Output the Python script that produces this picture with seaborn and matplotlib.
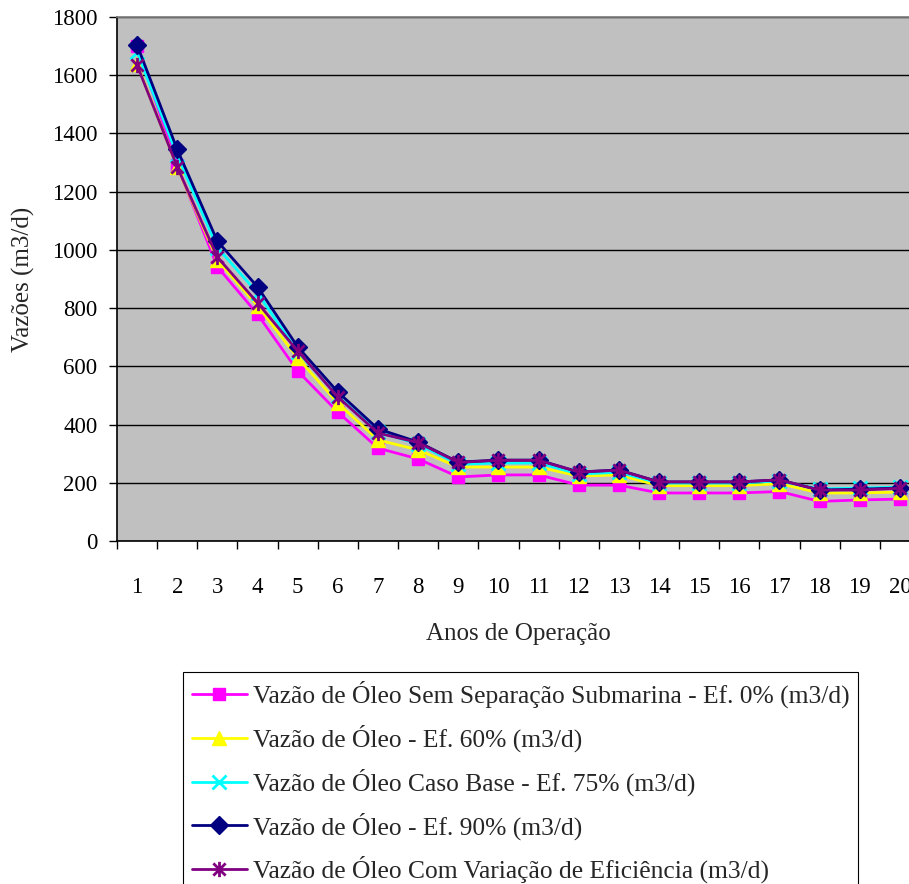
import numpy as np
import pandas as pd
import matplotlib
matplotlib.use("Agg")
import matplotlib.pyplot as plt
from matplotlib.path import Path
import seaborn as sns

# Produção anual de óleo por cenário de eficiência de separação
anos = list(range(1, 21))
ef_0 = [1700, 1290, 942, 779, 584, 443, 319, 282, 220, 227, 227, 192, 192, 165, 165, 165, 170, 136, 141, 144]
ef_60 = [1638, 1285, 965, 808, 629, 474, 347, 313, 254, 254, 254, 223, 227, 190, 190, 190, 197, 165, 165, 168]
ef_75 = [1680, 1325, 1008, 852, 650, 497, 375, 333, 264, 268, 268, 230, 236, 199, 199, 199, 206, 179, 182, 185]
ef_90 = [1704, 1345, 1030, 873, 667, 512, 385, 340, 271, 278, 278, 237, 244, 203, 203, 203, 210, 175, 178, 182]
ef_var = [1635, 1285, 975, 818, 653, 495, 371, 338, 270, 277, 277, 237, 243, 203, 203, 203, 210, 175, 175, 181]

nomes = [
    "Vazão de Óleo Sem Separação Submarina - Ef. 0% (m3/d)",
    "Vazão de Óleo - Ef. 60% (m3/d)",
    "Vazão de Óleo Caso Base - Ef. 75% (m3/d)",
    "Vazão de Óleo - Ef. 90% (m3/d)",
    "Vazão de Óleo Com Variação de Eficiência (m3/d)",
]
y_ticks = [0, 200, 400, 600, 800, 1000, 1200, 1400, 1600, 1800]

# asterisco: linha vertical + X
estrela = Path(
    [(0, -1), (0, 1), (-0.8, -0.8), (0.8, 0.8), (-0.8, 0.8), (0.8, -0.8)],
    [Path.MOVETO, Path.LINETO, Path.MOVETO, Path.LINETO, Path.MOVETO, Path.LINETO],
)

estilos = [
    dict(color="#FF00FF", marker="s", ms=9, mec="#FF00FF", mew=1),
    dict(color="#FFFF00", marker="^", ms=10, mec="#FFFF00", mew=1),
    dict(color="#00FFFF", marker="x", ms=10, mec="#00FFFF", mew=2),
    dict(color="#000080", marker="D", ms=9, mec="#000080", mew=1),
    dict(color="#800080", marker=estrela, ms=11, mec="#800080", mew=2),
]

sns.set_theme(style="white")
plt.rcParams["font.family"] = ["Liberation Serif", "DejaVu Serif"]

fig = plt.figure(figsize=(9.09, 8.84), dpi=100)
ax = fig.add_axes([117 / 909, (884 - 541) / 884, (920 - 117) / 909, 524 / 884])
ax.set_facecolor("#C0C0C0")

series = [ef_0, ef_60, ef_75, ef_90, ef_var]
for nome, vals, st in zip(nomes, series, estilos):
    df = pd.DataFrame({"Ano": anos, "Vazão": vals})
    sns.lineplot(data=df, x="Ano", y="Vazão", ax=ax, color=st["color"], lw=2,
                 marker=st["marker"], markersize=st["ms"], markeredgecolor=st["mec"],
                 markeredgewidth=st["mew"], label=nome, legend=False)

ax.set_xlim(0.5, 20.5)
ax.set_ylim(0, 1800)
ax.set_yticks(y_ticks)
ax.set_xticks(anos)
ax.set_xticks(np.arange(0.5, 21, 1), minor=True)
ax.tick_params(axis="x", which="major", length=0, pad=26, labelsize=16.5, colors="black")
ax.tick_params(axis="x", which="minor", length=6, width=1, direction="out", color="black", bottom=True)
ax.tick_params(axis="y", length=6, width=1, direction="out", pad=8, labelsize=16.5, colors="black", left=True)
ax.yaxis.grid(True, color="black", lw=1)
ax.set_axisbelow(True)
for s in ["left", "bottom"]:
    ax.spines[s].set_color("black")
    ax.spines[s].set_linewidth(1.2)
ax.spines["top"].set_color("#808080")
ax.spines["right"].set_visible(False)

ax.set_xlabel("Anos de Operação", fontsize=18, labelpad=18)
ax.set_ylabel("Vazões (m3/d)", fontsize=18, labelpad=12)

handles, labels = ax.get_legend_handles_labels()
leg = fig.legend(handles, labels, loc="upper left", bbox_to_anchor=(183 / 909, 1 - 672 / 884),
                 fontsize=18.4, frameon=True, fancybox=False, framealpha=1, edgecolor="black",
                 handlelength=2.15, handletextpad=0.23, labelspacing=0.64, borderpad=0.35,
                 borderaxespad=0)
leg.get_frame().set_linewidth(0.8)

fig.savefig("out.png", dpi=100)
